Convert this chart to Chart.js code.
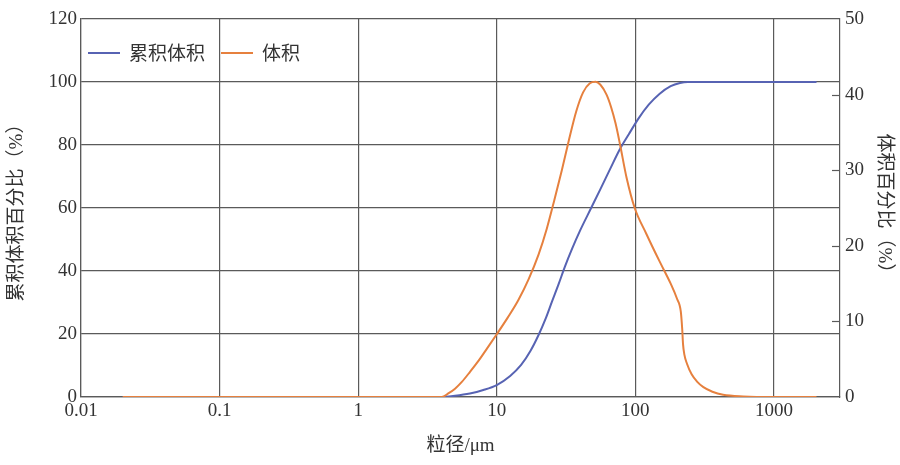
<!DOCTYPE html>
<html>
<head>
<meta charset="utf-8">
<script src="https://cdn.jsdelivr.net/npm/chart.js@4/dist/chart.umd.min.js"></script>
<style>
  html, body { margin: 0; padding: 0; background: #fff; }
  #wrap { width: 900px; height: 465px; position: relative; }
</style>
</head>
<body>
<div id="wrap"><canvas id="c"></canvas></div>
<script>
// ---- data ----
const seriesNames = ['累积体积', '体积'];
const xTickValues = [0.01, 0.1, 1, 10, 100, 1000];
const xTickLabels = ['0.01', '0.1', '1', '10', '100', '1000'];
const xTitle = '粒径/μm';
const yLeftTitle = '累积体积百分比（%）';
const yRightTitle = '体积百分比（%）';

// cumulative volume (%), left axis
const cumSizes  = [0.02, 1, 3.9, 5, 6.4, 8, 10, 12.5, 15, 17.5, 20, 22.5, 25, 28, 31, 35, 40, 48, 56, 66, 77, 90, 105, 125, 150, 180, 210, 240, 1000, 2030];
const cumValues = [0, 0, 0, 0.4, 1.1, 2.2, 3.8, 6.7, 10.2, 14.6, 19.6, 24.8, 30.2, 35.9, 41.3, 47.1, 52.9, 60, 66, 72.5, 78.5, 83.5, 88.3, 92.8, 96.3, 98.7, 99.7, 100, 100, 100];

// volume (%), right axis
const volSizes  = [0.02, 1, 4.0, 4.5, 5, 5.6, 6.4, 7.4, 8.5, 10, 12, 14.3, 17, 20, 23, 26, 29.5, 33, 37.5, 42, 47, 51.7, 56, 62, 67, 72, 77.4, 86.5, 99, 120, 150, 180, 200, 213, 218, 221, 226, 236, 255, 280, 310, 360, 430, 600, 1000, 2030];
const volValues = [0, 0, 0, 0.5, 1.1, 2.0, 3.3, 4.8, 6.4, 8.3, 10.5, 12.8, 15.6, 18.8, 22.3, 26, 30, 33.8, 37.8, 40.3, 41.5, 41.7, 41.3, 40, 38.3, 36.2, 33.5, 29, 25, 21.6, 17.9, 15, 13, 11.3, 9, 7, 5.6, 4.4, 3, 2, 1.3, 0.7, 0.3, 0.08, 0, 0];

const blue = '#5763b3';
const orange = '#e6803e';
const gridColor = '#5a5a5a';
const textColor = '#333333';
const serif = "'Liberation Serif', 'Noto Sans CJK SC', serif";
const cjk = "'Noto Sans CJK SC', 'Liberation Serif', sans-serif";

const cumData = cumSizes.map((s, i) => ({ x: s, y: cumValues[i] }));
const volData = volSizes.map((s, i) => ({ x: s, y: volValues[i] }));

const insideTicks = {
  id: 'insideTicks',
  afterDraw(chart) {
    const ctx = chart.ctx;
    const s = chart.scales.y2;
    const a = chart.chartArea;
    ctx.save();
    ctx.strokeStyle = gridColor;
    ctx.lineWidth = 1.2;
    s.ticks.forEach(t => {
      if (t.value <= s.min || t.value >= s.max) return;
      const y = Math.round(s.getPixelForValue(t.value)) + 0.5;
      ctx.beginPath();
      ctx.moveTo(a.right - 8, y);
      ctx.lineTo(a.right, y);
      ctx.stroke();
    });
    ctx.restore();
  }
};

const innerLegend = {
  id: 'innerLegend',
  afterDraw(chart) {
    const ctx = chart.ctx;
    const a = chart.chartArea;
    const y = a.top + 34;
    let x = a.left + 7;
    ctx.save();
    ctx.font = "19px " + cjk;
    ctx.textBaseline = 'middle';
    chart.data.datasets.forEach(ds => {
      ctx.strokeStyle = ds.borderColor;
      ctx.lineWidth = 2;
      ctx.beginPath();
      ctx.moveTo(x, y);
      ctx.lineTo(x + 32, y);
      ctx.stroke();
      ctx.fillStyle = textColor;
      ctx.fillText(ds.label, x + 41, y);
      x += 41 + ctx.measureText(ds.label).width + 16;
    });
    ctx.restore();
  }
};

new Chart(document.getElementById('c'), {
  type: 'line',
  data: {
    datasets: [
      { label: seriesNames[0], data: cumData, yAxisID: 'y', borderColor: blue, backgroundColor: blue,
        borderWidth: 2, pointRadius: 0, cubicInterpolationMode: 'monotone', order: 1 },
      { label: seriesNames[1], data: volData, yAxisID: 'y2', borderColor: orange, backgroundColor: orange,
        borderWidth: 2, pointRadius: 0, cubicInterpolationMode: 'monotone', order: 0 }
    ]
  },
  options: {
    responsive: true,
    maintainAspectRatio: false,
    animation: false,
    layout: { padding: { top: 19, left: 0, right: 0, bottom: 0 } },
    plugins: { legend: { display: false }, tooltip: { enabled: false } },
    scales: {
      x: {
        type: 'logarithmic',
        position: 'bottom',
        min: 0.01, max: 3000,
        afterBuildTicks: s => { s.ticks = xTickValues.map(v => ({ value: v })); },
        afterFit: s => { s.height = 68; },
        ticks: {
          autoSkip: false, maxRotation: 0, padding: 3,
          color: textColor, font: { family: serif, size: 19 },
          callback: (v) => { const i = xTickValues.indexOf(v); return i >= 0 ? xTickLabels[i] : ''; }
        },
        grid: { color: gridColor, lineWidth: 1.2, drawTicks: false },
        border: { display: true, color: gridColor, width: 1.2 },
        title: { display: true, text: xTitle, color: textColor, font: { family: serif, size: 19 }, padding: { top: 0, bottom: 8 } }
      },
      y: {
        position: 'left',
        min: 0, max: 120,
        afterFit: s => { s.width = 81; },
        ticks: { stepSize: 20, padding: 4, color: textColor, font: { family: serif, size: 19 } },
        grid: { color: gridColor, lineWidth: 1.2, drawTicks: false },
        border: { display: true, color: gridColor, width: 1.2 },
        title: { display: true, text: yLeftTitle, color: textColor, font: { family: serif, size: 19 }, padding: { top: 6, bottom: 0 } }
      },
      y2: {
        position: 'right',
        min: 0, max: 50,
        afterFit: s => { s.width = 60; },
        ticks: { stepSize: 10, padding: 5, color: textColor, font: { family: serif, size: 19 } },
        grid: { drawOnChartArea: false, drawTicks: false },
        border: { display: true, color: gridColor, width: 1.2 },
        title: { display: true, text: yRightTitle, color: textColor, font: { family: serif, size: 19 }, padding: { top: 5, bottom: 0 } }
      }
    }
  },
  plugins: [insideTicks, innerLegend]
});
</script>
</body>
</html>
